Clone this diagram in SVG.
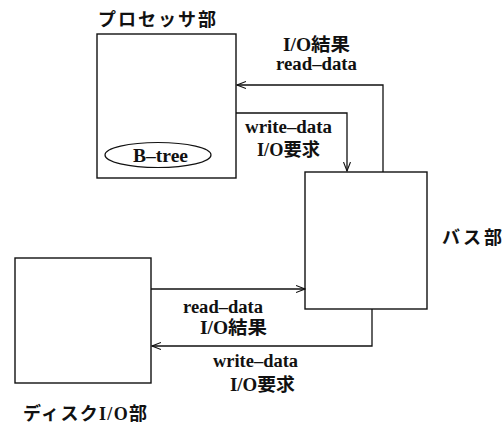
<svg xmlns="http://www.w3.org/2000/svg" width="504" height="426" viewBox="0 0 504 426">
<defs>
<style>
.box{fill:#fff;stroke:#111;stroke-width:1.4}
.ln{fill:none;stroke:#111;stroke-width:1.3}
.lat{font-family:"Liberation Serif","Times New Roman",serif;font-weight:700;font-size:18px;fill:#111}
.jp{font-family:"Liberation Serif","Noto Sans CJK JP",serif;font-weight:700;font-size:18px;fill:#111}
</style>
<marker id="ah" markerWidth="10" markerHeight="8" refX="9" refY="4" orient="auto" markerUnits="userSpaceOnUse">
<path d="M0,0.5 L9,4 L0,7.5" fill="none" stroke="#111" stroke-width="1.1"/>
</marker>
</defs>
<rect width="504" height="426" fill="#fff"/>
<g id="processor">
<rect class="box" x="97" y="34" width="139" height="144"/>
<text class="jp" x="98" y="26" textLength="118" lengthAdjust="spacing">プロセッサ部</text>
</g>
<g id="btree">
<ellipse cx="158" cy="155" rx="53" ry="12.5" fill="none" stroke="#111" stroke-width="1.2"/>
<text class="lat" x="133" y="162" font-size="19" textLength="55" lengthAdjust="spacingAndGlyphs">B–tree</text>
</g>
<g id="bus">
<rect class="box" x="305" y="172" width="122" height="137"/>
<text class="jp" x="442" y="244" textLength="60" lengthAdjust="spacing">バス部</text>
</g>
<g id="disk">
<rect class="box" x="15" y="258" width="136" height="125"/>
<text class="jp" x="23" y="420" textLength="124" lengthAdjust="spacing">ディスクI/O部</text>
</g>
<g id="connectors">
<polyline class="ln" points="383,172 383,85 237,85" marker-end="url(#ah)"/>
<polyline class="ln" points="236,113 347,113 347,171" marker-end="url(#ah)"/>
<polyline class="ln" points="151,289 305,289" marker-end="url(#ah)"/>
<polyline class="ln" points="372,309 372,346 152,346" marker-end="url(#ah)"/>
</g>
<g id="labels">
<text class="jp" x="283" y="51" textLength="67" lengthAdjust="spacingAndGlyphs">I/O結果</text>
<text class="lat" x="276" y="70" textLength="81" lengthAdjust="spacingAndGlyphs">read–data</text>
<text class="lat" x="245" y="133" textLength="87" lengthAdjust="spacingAndGlyphs">write–data</text>
<text class="jp" x="257" y="156" textLength="63" lengthAdjust="spacingAndGlyphs">I/O要求</text>
<text class="lat" x="183" y="313" textLength="80" lengthAdjust="spacingAndGlyphs">read–data</text>
<text class="jp" x="200" y="334" textLength="67" lengthAdjust="spacingAndGlyphs">I/O結果</text>
<text class="lat" x="213" y="367" textLength="85" lengthAdjust="spacingAndGlyphs">write–data</text>
<text class="jp" x="230" y="391" textLength="65" lengthAdjust="spacingAndGlyphs">I/O要求</text>
</g>
</svg>
